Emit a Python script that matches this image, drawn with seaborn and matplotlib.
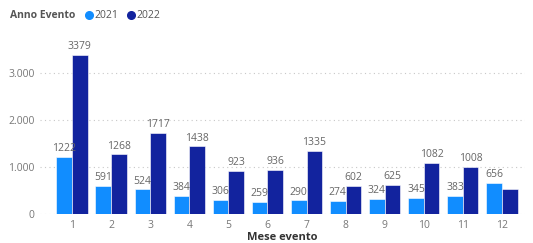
import pandas as pd
import matplotlib.pyplot as plt
import seaborn as sns

mesi = [1, 2, 3, 4, 5, 6, 7, 8, 9, 10, 11, 12]
valori_2021 = [1222, 591, 524, 384, 306, 259, 290, 274, 324, 345, 383, 656]
valori_2022 = [3379, 1268, 1717, 1438, 923, 936, 1335, 602, 625, 1082, 1008, 530]
anni = ['2021', '2022']
colori = ['#118DFF', '#12239E']

df = pd.DataFrame({
    'Mese': [str(m) for m in mesi] * 2,
    'Valore': valori_2021 + valori_2022,
    'Anno': ['2021'] * len(mesi) + ['2022'] * len(mesi),
})

sns.set_theme(style='white')
plt.rcParams['font.family'] = ['Open Sans', 'DejaVu Sans']

fig = plt.figure(figsize=(5.33, 2.43), dpi=100)
ax = fig.add_axes([40 / 533, 1 - 214 / 243, 485 / 533, (214 - 44.7) / 243])

sns.barplot(data=df, x='Mese', y='Valore', hue='Anno', hue_order=anni,
            palette=colori, width=0.8, saturation=1, edgecolor='white',
            linewidth=0.4, legend=False, ax=ax)

grigio = '#666666'
for i, cont in enumerate(ax.containers):
    vals = valori_2021 if i == 0 else valori_2022
    labels = [str(v) for v in vals]
    if i == 1:
        labels[-1] = ''  # Power BI nasconde l'etichetta sovrapposta
    ax.bar_label(cont, labels=labels, padding=2, fontsize=7.5, color=grigio)

ax.set_xlim(-0.82, 11.59)
ax.set_ylim(0, 3600)
ax.set_yticks([0, 1000, 2000, 3000])
ax.set_yticklabels(['0', '1.000', '2.000', '3.000'])
ax.yaxis.grid(True, linestyle=(0, (1, 3)), color='#c8c8c8', linewidth=0.8)
ax.set_axisbelow(True)
ax.tick_params(axis='both', labelsize=7.5, labelcolor='#777777', length=0, pad=4)
for s in ax.spines.values():
    s.set_visible(False)

ax.set_ylabel('')
ax.set_xlabel('Mese evento', fontsize=8, fontweight='bold', color='#333333', labelpad=1)

fig.text(10 / 533, 1 - 16 / 243, 'Anno Evento', fontsize=7.5, fontweight='bold',
         color='#555555', va='center', ha='left')
handles = [plt.Line2D([], [], marker='o', linestyle='', markersize=5.5,
                      color=c) for c in colori]
fig.legend(handles, anni, loc='center left', bbox_to_anchor=(79 / 533, 1 - 16 / 243),
           ncol=2, frameon=False, fontsize=7.5, handletextpad=-0.1,
           columnspacing=0.6, handlelength=1.2, borderaxespad=0,
           labelcolor='#555555')

fig.savefig('out.png', dpi=100)
